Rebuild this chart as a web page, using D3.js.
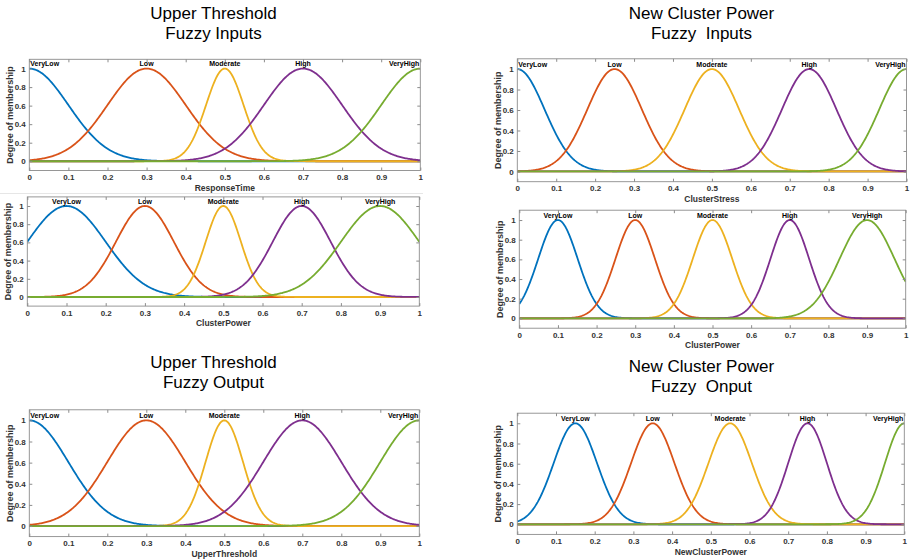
<!DOCTYPE html>
<html>
<head>
<meta charset="utf-8">
<script src="https://cdn.jsdelivr.net/npm/d3@7"></script>
<style>
  html, body { margin: 0; padding: 0; background: #fff; }
  svg { display: block; font-family: "Liberation Sans", Arial, Helvetica, sans-serif; }
</style>
</head>
<body>
<svg id="chart" width="910" height="559"></svg>
<script>
// ---------------- Data ----------------
const mfNames = ["VeryLow", "Low", "Moderate", "High", "VeryHigh"];
const xTicks = [0, 0.1, 0.2, 0.3, 0.4, 0.5, 0.6, 0.7, 0.8, 0.9, 1];
const yTicks = [0, 0.2, 0.4, 0.6, 0.8, 1];

// Gaussian membership function parameters (center, sigma)
const responseTimeCenters = [0, 0.3, 0.5, 0.7, 1];
const responseTimeSigmas  = [0.1, 0.1, 0.048, 0.1, 0.1];

const clusterStressCenters = [0, 0.25, 0.5, 0.75, 1];
const clusterStressSigmas  = [0.07, 0.07, 0.07, 0.07, 0.07];

const clusterPowerACenters = [0.1, 0.3, 0.5, 0.7, 0.9];
const clusterPowerASigmas  = [0.1, 0.074, 0.045, 0.074, 0.1];

const clusterPowerBCenters = [0.1, 0.3, 0.5, 0.7, 0.9];
const clusterPowerBSigmas  = [0.051, 0.051, 0.051, 0.05, 0.071];

const upperThresholdCenters = [0, 0.3, 0.5, 0.7, 1];
const upperThresholdSigmas  = [0.1, 0.1, 0.048, 0.1, 0.1];

const newClusterPowerCenters = [0.15, 0.35, 0.55, 0.75, 1];
const newClusterPowerSigmas  = [0.056, 0.056, 0.056, 0.05, 0.05];

const titles = [
  ["Upper Threshold", "Fuzzy Inputs"],
  ["New Cluster Power", "Fuzzy  Inputs"],
  ["Upper Threshold", "Fuzzy Output"],
  ["New Cluster Power", "Fuzzy  Onput"]
];
const xLabels = ["ResponseTime", "ClusterStress", "ClusterPower", "ClusterPower", "UpperThreshold", "NewClusterPower"];

// ---------------- Styles / layout ----------------
const mfColors = ["#0072BD", "#D95319", "#EDB120", "#7E2F8E", "#77AC30"];

const panels = [
  { x0: 29.3, x1: 420.3, top: 59.3, bottom: 170.5, label: xLabels[0], c: responseTimeCenters, s: responseTimeSigmas },
  { x0: 517.3, x1: 906.5, top: 58.8, bottom: 181.7, label: xLabels[1], c: clusterStressCenters, s: clusterStressSigmas },
  { x0: 27.3, x1: 419.3, top: 196.9, bottom: 306.1, label: xLabels[2], c: clusterPowerACenters, s: clusterPowerASigmas },
  { x0: 519.3, x1: 905.7, top: 210.2, bottom: 328.2, label: xLabels[3], c: clusterPowerBCenters, s: clusterPowerBSigmas },
  { x0: 29.3, x1: 419.3, top: 409.8, bottom: 536.6, label: xLabels[4], c: upperThresholdCenters, s: upperThresholdSigmas },
  { x0: 517.3, x1: 904.3, top: 413.2, bottom: 534.4, label: xLabels[5], c: newClusterPowerCenters, s: newClusterPowerSigmas }
];

const titlePos = [
  { x: 213.5, y: 13 },
  { x: 701.5, y: 13 },
  { x: 213.5, y: 362 },
  { x: 701.5, y: 366 }
];

const svg = d3.select("#chart");

// Titles
titles.forEach((t, i) => {
  const g = svg.append("g");
  t.forEach((line, j) => {
    g.append("text")
      .attr("x", titlePos[i].x)
      .attr("y", titlePos[i].y + j * 20)
      .attr("dy", "0.35em")
      .attr("text-anchor", "middle")
      .attr("font-size", 17)
      .attr("fill", "#000")
      .style("white-space", "pre")
      .attr("xml:space", "preserve")
      .text(line);
  });
});

// faint separator line seen above the middle-left panel
svg.append("line")
  .attr("x1", 0).attr("x2", 423).attr("y1", 193.5).attr("y2", 193.5)
  .attr("stroke", "#e6e6e6").attr("stroke-width", 1);

const gauss = (x, c, s) => Math.exp(-((x - c) * (x - c)) / (2 * s * s));
const sampleX = d3.range(0, 1.00001, 0.0025);

panels.forEach(p => {
  const x = d3.scaleLinear().domain([0, 1]).range([p.x0, p.x1]);
  const y = d3.scaleLinear().domain([-0.1, 1.1]).range([p.bottom, p.top]);
  const g = svg.append("g");

  // clip
  const clipId = "clip" + Math.round(p.x0) + "_" + Math.round(p.top);
  svg.append("clipPath").attr("id", clipId)
    .append("rect").attr("x", p.x0).attr("y", p.top)
    .attr("width", p.x1 - p.x0).attr("height", p.bottom - p.top);

  // curves
  const line = d3.line().x(d => x(d[0])).y(d => y(d[1]));
  const cg = g.append("g").attr("clip-path", `url(#${clipId})`);
  p.c.forEach((c, i) => {
    const pts = sampleX.map(v => [v, gauss(v, c, p.s[i])]);
    cg.append("path")
      .attr("d", line(pts))
      .attr("fill", "none")
      .attr("stroke", mfColors[i])
      .attr("stroke-width", 1.8)
      .attr("stroke-linejoin", "round");
  });

  // box
  g.append("rect")
    .attr("x", p.x0).attr("y", p.top)
    .attr("width", p.x1 - p.x0).attr("height", p.bottom - p.top)
    .attr("fill", "none").attr("stroke", "#8c8c8c").attr("stroke-width", 0.9);

  // x axis (bottom) with inward ticks
  const xAxis = d3.axisBottom(x).tickValues(xTicks).tickSizeInner(-3).tickSizeOuter(0)
    .tickPadding(4).tickFormat(d => d3.format("")(d));
  const xa = g.append("g").attr("transform", `translate(0,${p.bottom})`).call(xAxis);
  xa.select(".domain").remove();
  xa.selectAll("line").attr("stroke", "#8c8c8c");
  xa.selectAll("text").attr("font-size", 8).attr("font-weight", "bold")
    .attr("fill", "#333").attr("font-family", "Liberation Sans, Arial, sans-serif");

  // x top ticks
  const xt = g.append("g").attr("transform", `translate(0,${p.top})`)
    .call(d3.axisTop(x).tickValues(xTicks).tickSizeInner(-3).tickSizeOuter(0).tickFormat(""));
  xt.select(".domain").remove();
  xt.selectAll("line").attr("stroke", "#8c8c8c");

  // y axis (left)
  const yAxis = d3.axisLeft(y).tickValues(yTicks).tickSizeInner(-3).tickSizeOuter(0)
    .tickPadding(3.5).tickFormat(d => d3.format("")(d));
  const ya = g.append("g").attr("transform", `translate(${p.x0},0)`).call(yAxis);
  ya.select(".domain").remove();
  ya.selectAll("line").attr("stroke", "#8c8c8c");
  ya.selectAll("text").attr("font-size", 8).attr("font-weight", "bold")
    .attr("fill", "#333").attr("font-family", "Liberation Sans, Arial, sans-serif");

  // y right ticks
  const yr = g.append("g").attr("transform", `translate(${p.x1},0)`)
    .call(d3.axisRight(y).tickValues(yTicks).tickSizeInner(-3).tickSizeOuter(0).tickFormat(""));
  yr.select(".domain").remove();
  yr.selectAll("line").attr("stroke", "#8c8c8c");

  // x label
  g.append("text")
    .attr("x", (p.x0 + p.x1) / 2)
    .attr("y", p.bottom + 17.3)
    .attr("dy", "0.35em")
    .attr("text-anchor", "middle")
    .attr("font-size", 8.5).attr("font-weight", "bold").attr("fill", "#333")
    .text(p.label);

  // y label
  const cy = (p.top + p.bottom) / 2;
  g.append("text")
    .attr("transform", `translate(${p.x0 - 19.5},${cy}) rotate(-90)`)
    .attr("dy", "0.35em")
    .attr("text-anchor", "middle")
    .attr("font-size", 9).attr("font-weight", "bold").attr("fill", "#333")
    .text("Degree of membership");

  // MF labels
  p.c.forEach((c, i) => {
    const t = g.append("text")
      .attr("x", x(c))
      .attr("y", y(1) - 2.5)
      .attr("text-anchor", "middle")
      .attr("font-size", 7).attr("font-weight", "bold").attr("fill", "#000")
      .text(mfNames[i]);
    const bb = t.node().getBBox();
    if (bb.x < p.x0 + 1) t.attr("text-anchor", "start").attr("x", p.x0 + 1);
    else if (bb.x + bb.width > p.x1 - 1) t.attr("text-anchor", "end").attr("x", p.x1 - 1);
  });
});
</script>
</body>
</html>
